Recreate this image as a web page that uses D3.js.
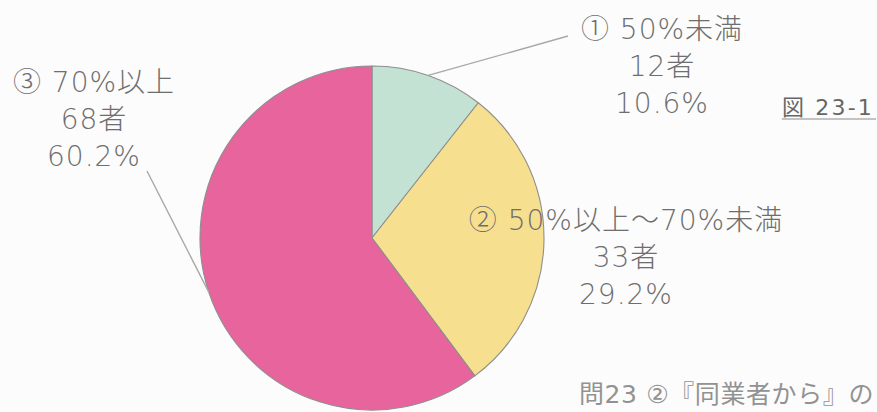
<!DOCTYPE html>
<html lang="ja">
<head>
<meta charset="utf-8">
<script src="https://cdn.jsdelivr.net/npm/d3@7/dist/d3.min.js"></script>
<style>
  html, body { margin: 0; padding: 0; background: #fcfcfc; }
  svg { display: block; }
  text { font-family: "DejaVu Sans", "Noto Sans CJK JP", sans-serif; }
</style>
</head>
<body>
<svg id="chart" width="877" height="412"></svg>
<script>
// 回答区分・回答者数・構成比
const categories = ["① 50%未満", "② 50%以上～70%未満", "③ 70%以上"];
const counts = [12, 33, 68];
const percents = [10.6, 29.2, 60.2];
const sliceColors = ["#c3e2d4", "#f6df8f", "#e8649c"];

const figureLabel = "図 23-1";
const captionText = "問23 ②『同業者から』の";

// layout
const W = 877, H = 412;
const cx = 372, cy = 238, radius = 172;
const labelFont = 28, lineGap = 37;
const labelPos = [
  { x: 662, y: 39, leader: [568, 36] },
  { x: 626, y: 230, leader: null },
  { x: 94, y: 92, leader: [147, 171] }
];

const svg = d3.select("#chart");

const pie = d3.pie().sort(null).value(d => d)(percents);
const arc = d3.arc().innerRadius(0).outerRadius(radius);

const g = svg.append("g").attr("transform", `translate(${cx},${cy})`);

g.selectAll("path.slice")
  .data(pie)
  .join("path")
  .attr("class", "slice")
  .attr("d", arc)
  .attr("fill", (d, i) => sliceColors[i])
  .attr("stroke", "#8e8e8e")
  .attr("stroke-width", 1.1)
  .attr("stroke-linejoin", "round");

// leader lines from label to the outer edge of each slice
pie.forEach((d, i) => {
  const lp = labelPos[i];
  if (!lp.leader) return;
  const mid = (d.startAngle + d.endAngle) / 2;
  const ex = cx + radius * Math.sin(mid);
  const ey = cy - radius * Math.cos(mid);
  svg.append("line")
    .attr("x1", lp.leader[0]).attr("y1", lp.leader[1])
    .attr("x2", ex).attr("y2", ey)
    .attr("stroke", "#a8a8a8")
    .attr("stroke-width", 1.4);
});

// three-line labels: category, count, share
pie.forEach((d, i) => {
  const lp = labelPos[i];
  const lines = [categories[i], `${counts[i]}者`, `${d3.format(".1f")(percents[i])}%`];
  const t = svg.append("text")
    .attr("text-anchor", "middle")
    .attr("font-size", labelFont)
    .attr("font-weight", 300)
    .attr("letter-spacing", 1)
    .attr("fill", "#6e6e6e");
  lines.forEach((s, k) => {
    t.append("tspan")
      .attr("x", lp.x)
      .attr("y", lp.y + k * lineGap)
      .text(s);
  });
});

// figure number with underline
const fig = svg.append("text")
  .attr("x", 874).attr("y", 115)
  .attr("text-anchor", "end")
  .attr("font-size", 22)
  .attr("letter-spacing", 2.2)
  .attr("fill", "#666")
  .text(figureLabel);
const fb = fig.node().getBBox();
svg.append("line")
  .attr("x1", fb.x).attr("x2", 876)
  .attr("y1", 119).attr("y2", 119)
  .attr("stroke", "#8a8a8a").attr("stroke-width", 1.2);

// caption at the bottom right
svg.append("text")
  .attr("x", 874).attr("y", 403)
  .attr("text-anchor", "end")
  .attr("font-size", 25)
  .attr("letter-spacing", 0.6)
  .attr("fill", "#929292")
  .text(captionText);
</script>
</body>
</html>
